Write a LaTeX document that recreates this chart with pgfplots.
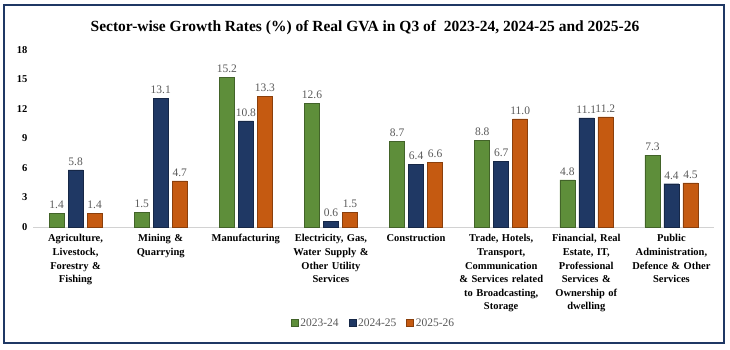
\documentclass[border=0pt]{standalone}
\usepackage{pgfplots}
\pgfplotsset{compat=1.18}
\usepackage{fontspec}
\setmainfont{Liberation Serif}
\definecolor{cgreen}{HTML}{5E8E3A}
\definecolor{cnavy}{HTML}{1F3864}
\definecolor{corange}{HTML}{C55A11}
\definecolor{cframe}{HTML}{1F3864}
\definecolor{clabel}{HTML}{595959}
\begin{document}
\begin{tikzpicture}[x=1pt,y=1pt]
\useasboundingbox (0,0) rectangle (730,349);
\draw[cframe, line width=2pt] (4,6) rectangle (724,344);
\node[font=\bfseries\fontsize{15.5}{15.5}\selectfont, text=black] at (365,321) {Sector-wise Growth Rates (\%) of Real GVA in Q3 of \ 2023-24, 2024-25 and 2025-26};
\begin{axis}[
  at={(33pt,122pt)}, anchor=south west,
  scale only axis, width=681pt, height=177pt,
  ymin=0, ymax=18, ytick={0,3,...,18},
  xmin=-0.5, xmax=7.5,
  xtick={0,...,7},
  xticklabels={{Agriculture,\\Livestock,\\Forestry \&\\Fishing},{Mining \&\\Quarrying},{Manufacturing},{Electricity, Gas,\\Water Supply \&\\Other Utility\\Services},{Construction},{Trade, Hotels,\\Transport,\\Communication\\\& Services related\\to Broadcasting,\\Storage},{Financial, Real\\Estate, IT,\\Professional\\Services \&\\Ownership of\\dwelling},{Public\\Administration,\\Defence \& Other\\Services}},
  xticklabel style={font=\bfseries\fontsize{10.5}{13.6}\selectfont, align=center, text width=95pt, anchor=north, yshift=-4pt},
  yticklabel style={font=\bfseries\fontsize{10.5}{10.5}\selectfont, xshift=-2pt},
  /pgf/number format/assume math mode=true,
  major tick length=0pt,
  axis x line=bottom, axis y line=left,
  x axis line style={draw=gray!35, line width=1pt, -},
  y axis line style={draw=none},
  ybar=4pt, bar width=15pt,
  nodes near coords,
  nodes near coords style={font=\fontsize{11.5}{11.5}\selectfont, text=clabel, /pgf/number format/fixed, /pgf/number format/fixed zerofill, /pgf/number format/precision=1, yshift=1pt},
  legend style={at={(0.5,-0.545)}, anchor=center, draw=none, font=\fontsize{11.5}{11.5}\selectfont, text=clabel, legend columns=3, /tikz/every even column/.append style={column sep=8pt}},
  legend image code/.code={\draw[#1, line width=0.4pt] (0pt,-3pt) rectangle (7pt,4pt);},
]
\addplot[fill=cgreen, draw=cgreen!70!black] coordinates {(0,1.4) (1,1.5) (2,15.2) (3,12.6) (4,8.7) (5,8.8) (6,4.8) (7,7.3)};
\addplot[fill=cnavy, draw=cnavy!70!black] coordinates {(0,5.8) (1,13.1) (2,10.8) (3,0.6) (4,6.4) (5,6.7) (6,11.1) (7,4.4)};
\addplot[fill=corange, draw=corange!70!black] coordinates {(0,1.4) (1,4.7) (2,13.3) (3,1.5) (4,6.6) (5,11.0) (6,11.2) (7,4.5)};
\legend{2023-24,2024-25,2025-26}
\end{axis}
\end{tikzpicture}
\end{document}
